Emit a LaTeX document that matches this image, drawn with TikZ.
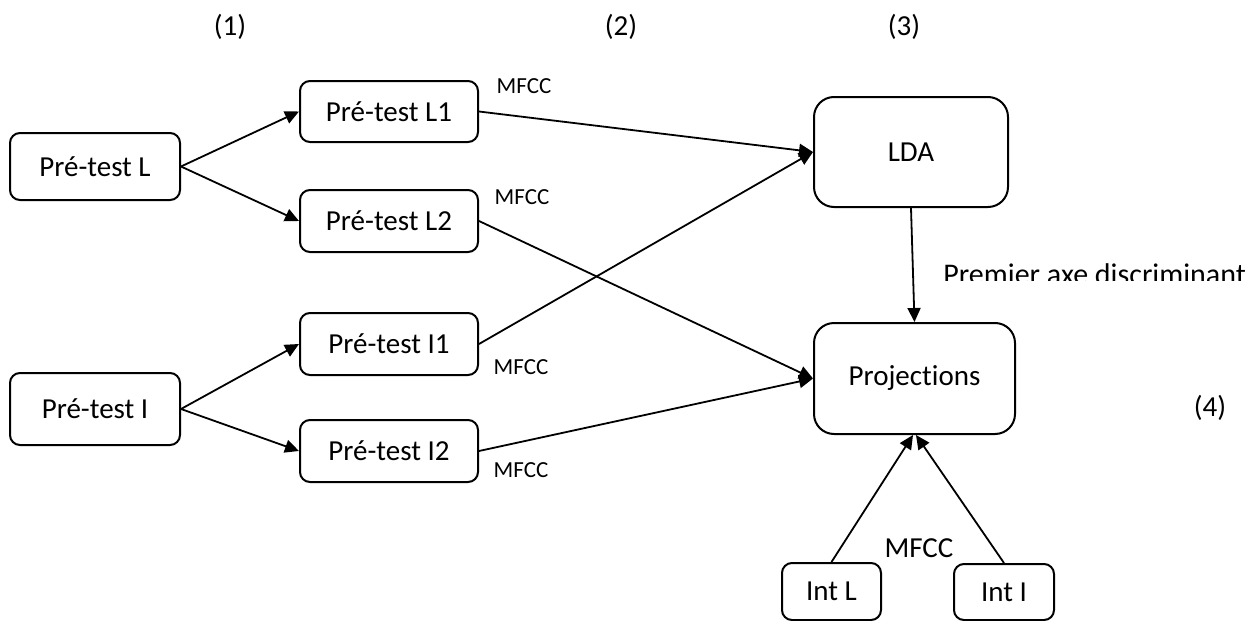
\documentclass[tikz,border=0pt]{standalone}
\usepackage{fontspec}
\setmainfont{Carlito}[Ligatures=NoCommon]
\usetikzlibrary{arrows.meta}
\begin{document}
\begin{tikzpicture}[x=0.5pt,y=-0.5pt,
  txt/.style={font=\fontsize{14.5}{17}\selectfont},
  box/.style={draw, line width=1pt, rounded corners=5pt, inner sep=0pt, txt},
  bigbox/.style={box, rounded corners=10pt},
  link/.style={-{Triangle[length=7pt,width=6.5pt]}, line width=0.9pt},
  lbl/.style={inner sep=0pt, txt},
  small/.style={inner sep=0pt, font=\fontsize{11.5}{14}\selectfont}]

\useasboundingbox (0,0) rectangle (1254,621);

% step numbers
\node[lbl] (s1) at (230,27) {(1)};
\node[lbl] (s2) at (621,27) {(2)};
\node[lbl] (s3) at (904,27) {(3)};
\node[lbl] (s4) at (1210,408) {(4)};

% pre-test recordings
\node[box, minimum width=85pt, minimum height=33.5pt] (preL) at (95,166.5) {Pré-test L};
\node[box, minimum width=85pt, minimum height=36pt]   (preI) at (95,409)   {Pré-test I};

\node[box, minimum width=89pt, minimum height=30.5pt] (L1) at (389,111.5) {Pré-test L1};
\node[box, minimum width=89pt, minimum height=31pt]   (L2) at (389,221)   {Pré-test L2};
\node[box, minimum width=89pt, minimum height=31pt]   (I1) at (389,344)   {Pré-test I1};
\node[box, minimum width=89pt, minimum height=31pt]   (I2) at (389,451)   {Pré-test I2};

% analysis
\node[bigbox, minimum width=97pt, minimum height=55pt]    (lda)  at (911,152)   {LDA};
\node[bigbox, minimum width=100.5pt, minimum height=55.5pt] (proj) at (914.5,378.5) {Projections};

% test recordings
\node[box, minimum width=49.5pt, minimum height=28.5pt] (intL) at (831.5,591.5) {Int L};
\node[box, minimum width=50pt, minimum height=28pt]     (intI) at (1004,592)    {Int I};

% feature labels
\node[small] (m1) at (524,86)  {MFCC};
\node[small] (m2) at (522,197) {MFCC};
\node[small] (m3) at (521,367) {MFCC};
\node[small] (m4) at (521,470) {MFCC};
\node[lbl]   (m5) at (919,548) {MFCC};

% axis label, cut at its baseline
\begin{scope}
  \clip (930,240) rectangle (1254,280);
  \node[inner sep=0pt, font=\fontsize{15}{18}\selectfont, anchor=base west] (axe) at (943,284) {Premier axe discriminant};
\end{scope}

% connectors
\draw[link] (preL.east) -- (L1.west);
\draw[link] (preL.east) -- (L2.west);
\draw[link] (preI.east) -- (I1.west);
\draw[link] (preI.east) -- (I2.west);

\draw[link] (L1.east) -- (lda.west);
\draw[link] (I1.east) -- (lda.west);
\draw[link] (L2.east) -- (proj.west);
\draw[link] (I2.east) -- (proj.west);

\draw[link] (lda.south) -- (proj.north);
\draw[link] (intL.north) -- ([xshift=-0.75pt]proj.south);
\draw[link] (intI.north) -- ([xshift=0.75pt]proj.south);
\end{tikzpicture}
\end{document}
